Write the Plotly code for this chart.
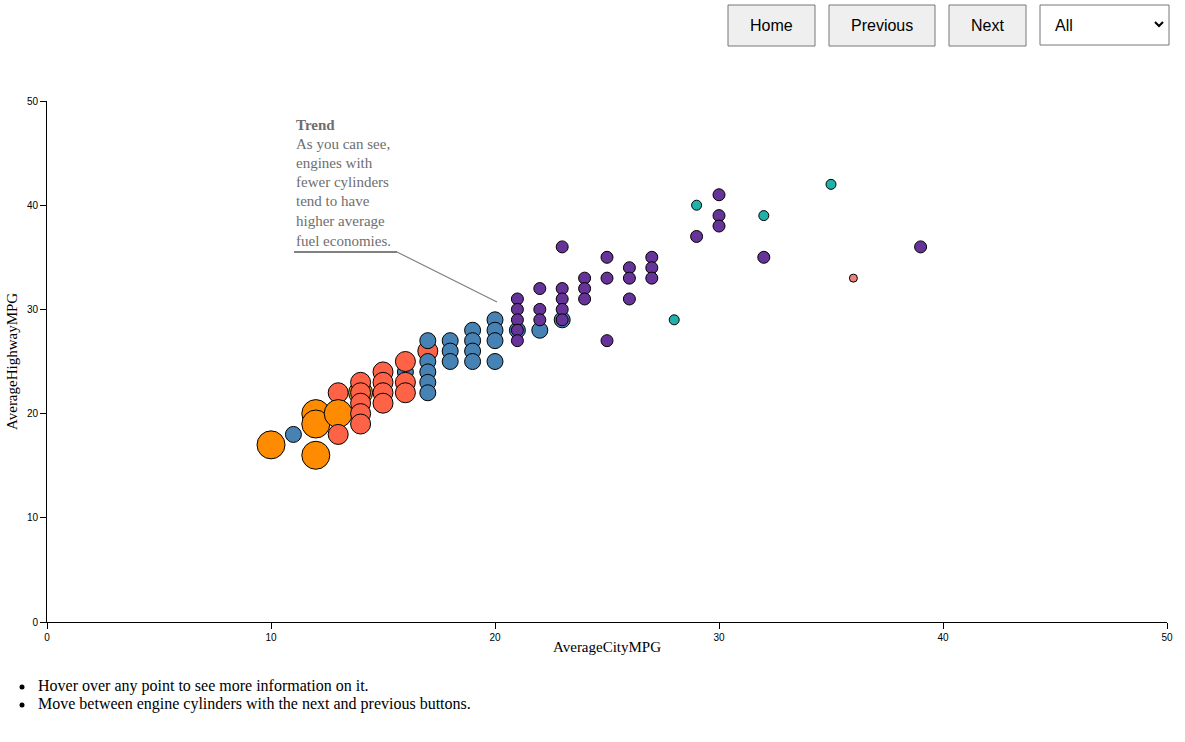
import plotly.graph_objects as go

# ---- data, listed in drawing order ----
city = [16, 17, 13, 14,
        10, 12, 12, 12, 13,
        13, 14, 14, 14, 14, 14, 15, 15, 15, 15, 16, 16, 16,
        11, 17, 17, 17, 17, 17, 18, 18, 18, 19, 19, 19, 19, 20, 20, 20, 20, 21, 22, 23,
        21, 21, 21, 21, 21, 22, 22, 22, 23, 23, 23, 23, 23, 24, 24, 24, 25, 25, 25,
        26, 26, 26, 27, 27, 27, 29, 30, 30, 30, 32, 39,
        28, 29, 32, 35,
        36]
highway = [24, 26, 22, 22,
           17, 20, 19, 16, 20,
           18, 23, 22, 21, 20, 19, 24, 23, 22, 21, 25, 23, 22,
           18, 27, 25, 24, 23, 22, 27, 26, 25, 28, 27, 26, 25, 29, 28, 27, 25, 28, 28, 29,
           31, 30, 29, 28, 27, 32, 30, 29, 36, 32, 31, 30, 29, 33, 32, 31, 35, 33, 27,
           34, 33, 31, 35, 34, 33, 37, 41, 39, 38, 35, 36,
           29, 40, 39, 42,
           33]
cylinders = [6, 8, 8, 10,
             12, 12, 12, 12, 12,
             8, 8, 8, 8, 8, 8, 8, 8, 8, 8, 8, 8, 8,
             6, 6, 6, 6, 6, 6, 6, 6, 6, 6, 6, 6, 6, 6, 6, 6, 6, 6, 6, 6,
             4, 4, 4, 4, 4, 4, 4, 4, 4, 4, 4, 4, 4, 4, 4, 4, 4, 4, 4,
             4, 4, 4, 4, 4, 4, 4, 4, 4, 4, 4, 4,
             3, 3, 3, 3,
             2]
cyl_colors = {12: "#FF8C00", 10: "#DAA520", 8: "#FF6347", 6: "#4682B4",
              4: "#663399", 3: "#20B2AA", 2: "#F08080"}
x_ticks = [0, 10, 20, 30, 40, 50]
y_ticks = [0, 10, 20, 30, 40, 50]
note_title = "Trend"
note_lines = ["As you can see,", "engines with", "fewer cylinders",
              "tend to have", "higher average", "fuel economies."]
bullets = ["Hover over any point to see more information on it.",
           "Move between engine cylinders with the next and previous buttons."]

W, H = 1185, 742
L, R, T, B = 47, 1167, 101, 622


def px(x):
    return (x - L) / (R - L)


def py(y):
    return (B - y) / (B - T)


fig = go.Figure()
fig.add_trace(go.Scatter(
    x=city, y=highway, mode="markers",
    marker=dict(size=[2 * c + 4 for c in cylinders],
                color=[cyl_colors[c] for c in cylinders],
                line=dict(color="black", width=1), opacity=1),
    customdata=cylinders,
    hovertemplate="City MPG: %{x}<br>Highway MPG: %{y}<br>Cylinders: %{customdata}<extra></extra>",
    showlegend=False,
))

tickfont = dict(family="Liberation Sans, Arial", size=10, color="black")
fig.update_layout(
    width=W, height=H,
    margin=dict(l=L, r=W - R, t=T, b=H - B),
    paper_bgcolor="white", plot_bgcolor="white",
    xaxis=dict(range=[0, 50], tickvals=x_ticks, showgrid=False, zeroline=False,
               showline=True, linecolor="black", linewidth=1, ticks="outside",
               ticklen=6, tickcolor="black", tickfont=tickfont, fixedrange=True),
    yaxis=dict(range=[0, 50], tickvals=y_ticks, showgrid=False, zeroline=False,
               showline=True, linecolor="black", linewidth=1, ticks="outside",
               ticklen=6, tickcolor="black", tickfont=tickfont, fixedrange=True),
    hovermode="closest",
)

serif = "Liberation Serif, Times New Roman, serif"
sans = "Liberation Sans, Arial, sans-serif"
ann = []
shapes = []

# axis titles
ann.append(dict(text="AverageCityMPG", x=px(607), y=py(647), xref="paper", yref="paper",
                showarrow=False, font=dict(family=serif, size=15, color="black"),
                xanchor="center", yanchor="middle"))
ann.append(dict(text="AverageHighwayMPG", x=px(12), y=py(362), xref="paper", yref="paper",
                showarrow=False, textangle=-90,
                font=dict(family=serif, size=15, color="black"),
                xanchor="center", yanchor="middle"))

# trend note (one annotation per line for exact line spacing)
note_y = [125, 144, 163, 182, 201, 221, 241]
for i, t in enumerate([f"<b>{note_title}</b>"] + note_lines):
    ann.append(dict(text=t, x=px(294), y=py(note_y[i]), xref="paper", yref="paper",
                    showarrow=False, align="left", xanchor="left", yanchor="middle",
                    font=dict(family=serif, size=15, color="#6e6e6e")))
shapes.append(dict(type="line", xref="paper", yref="paper",
                   x0=px(294), x1=px(397), y0=py(252), y1=py(252),
                   line=dict(color="#808080", width=2)))
shapes.append(dict(type="line", xref="paper", yref="paper",
                   x0=px(397), x1=px(497), y0=py(252), y1=py(302),
                   line=dict(color="#808080", width=1.2)))

# buttons
buttons = [("Home", 728, 815), ("Previous", 829, 935), ("Next", 949, 1026)]
for label, a, b in buttons:
    shapes.append(dict(type="rect", xref="paper", yref="paper",
                       x0=px(a), x1=px(b), y0=py(5), y1=py(46),
                       fillcolor="#EFEFEF", line=dict(color="#767676", width=1)))
    ann.append(dict(text=label, x=px((a + b) / 2), y=py(25.5), xref="paper", yref="paper",
                    showarrow=False, xanchor="center", yanchor="middle",
                    font=dict(family=sans, size=16, color="black")))
# select box
shapes.append(dict(type="rect", xref="paper", yref="paper",
                   x0=px(1040), x1=px(1169), y0=py(5), y1=py(45),
                   fillcolor="white", line=dict(color="#767676", width=1)))
ann.append(dict(text="All", x=px(1053), y=py(25.5), xref="paper", yref="paper",
                showarrow=False, xanchor="left", yanchor="middle",
                font=dict(family=sans, size=16, color="black")))
shapes.append(dict(type="path", xref="paper", yref="paper",
                   path=f"M {px(1155)} {py(22)} L {px(1159)} {py(26)} L {px(1163)} {py(22)}",
                   line=dict(color="black", width=2)))

# bullet list
for i, t in enumerate(bullets):
    yy = 686 + 18 * i
    shapes.append(dict(type="circle", xref="paper", yref="paper",
                       x0=px(19.5), x1=px(24.5), y0=py(yy - 2.5 + 1), y1=py(yy + 2.5 + 1),
                       fillcolor="black", line=dict(width=0)))
    ann.append(dict(text=t, x=px(36), y=py(yy), xref="paper", yref="paper",
                    showarrow=False, xanchor="left", yanchor="middle",
                    font=dict(family=serif, size=16, color="black")))

fig.update_layout(annotations=ann, shapes=shapes)
fig.write_html("out.html", config={"displayModeBar": False})
